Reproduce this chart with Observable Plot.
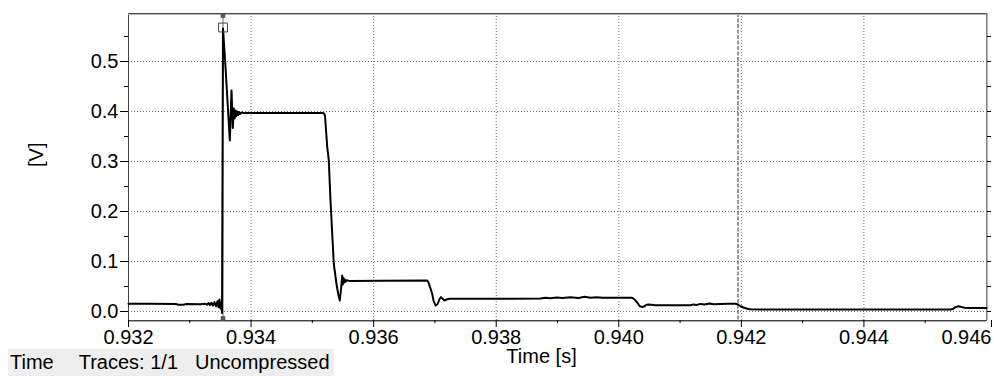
<!DOCTYPE html>
<html><head><meta charset="utf-8">
<script src="https://cdn.jsdelivr.net/npm/d3@7"></script>
<script src="https://cdn.jsdelivr.net/npm/@observablehq/plot@0.6"></script>
<style>
html,body{margin:0;padding:0;background:#fff;}
#wrap{position:relative;width:994px;height:376px;overflow:hidden;}
#cap{position:absolute;left:8px;top:349px;height:27px;width:324px;background:#eeeeee;font:20px "Liberation Sans",Arial,sans-serif;line-height:27px;white-space:pre;color:#000;padding-left:2px;}
#cap span{display:inline-block;}
</style></head><body><div id="wrap"><div id="cap"></div></div>
<script>
// ---- data ----
const timeS = [
  0.932000,0.932359,0.932767,0.932816,0.932897,0.932946,0.933175,
  0.933256,0.933281,0.933305,0.933330,0.933354,0.933379,0.933403,0.933428,0.933452,0.933469,0.933485,0.933501,0.933514,0.933526,
  0.933542,0.933583,0.933653,0.933681,0.933702,0.933718,0.933733,0.933746,0.933759,0.933774,0.933788,0.933803,0.933819,0.933844,0.933876,
  0.934480,0.935182,0.935206,0.935242,0.935268,0.935296,0.935324,0.935350,0.935394,0.935422,0.935448,0.935471,0.935487,0.935497,0.935508,0.935520,0.935531,0.935544,0.935565,0.935598,
  0.936112,0.936874,0.936895,0.936928,0.936956,0.936977,0.937010,0.937042,0.937075,0.937099,0.937124,0.937156,0.937189,0.937238,0.937303,
  0.938070,0.938723,0.938804,0.938886,0.938984,0.939082,0.939212,0.939343,0.939441,0.939539,0.939636,0.939734,
  0.940219,0.940257,0.940301,0.940338,0.940382,0.940420,0.940452,0.940490,0.940599,0.941170,0.941219,0.941268,0.941333,0.941398,0.941480,0.941545,0.941660,0.941790,0.941904,
  0.941945,0.941986,0.942035,0.942084,0.942133,0.942312,0.943781,0.945413,0.945453,0.945494,0.945543,0.945592,0.945641,0.945739,0.946000
];
const voltV = [
  0.0155,0.0156,0.0150,0.0136,0.0136,0.0148,0.0145,
  0.0155,0.0135,0.0168,0.0128,0.0175,0.0118,0.0188,0.0105,0.0205,0.0085,0.0240,0.0060,0.0180,-0.0030,
  0.566,0.489,0.342,0.442,0.367,0.406,0.386,0.402,0.391,0.400,0.393,0.399,0.395,0.398,0.397,
  0.3972,0.397,0.392,0.330,0.302,0.222,0.156,0.095,0.055,0.035,0.022,0.049,0.072,0.054,0.067,0.058,0.064,0.060,0.0625,0.0612,
  0.0615,0.062,0.058,0.046,0.035,0.022,0.012,0.0145,0.025,0.0287,0.026,0.022,0.024,0.0255,0.0253,
  0.0256,0.026,0.0275,0.0265,0.028,0.027,0.0285,0.0272,0.0295,0.0275,0.0285,0.0275,
  0.0275,0.024,0.018,0.011,0.0087,0.0105,0.0135,0.0138,0.0125,0.0125,0.0142,0.013,0.0152,0.0138,0.0158,0.0145,0.015,0.0155,0.0155,
  0.014,0.0105,0.008,0.006,0.0045,0.004,0.004,0.004,0.005,0.0088,0.0105,0.009,0.0075,0.007,0.007
];
const xDomain = [0.932, 0.946];
const yDomain = [-0.018, 0.596];
const xMajor = [0.932,0.934,0.936,0.938,0.940,0.942,0.944,0.946];
const xMinor = [0.933,0.935,0.937,0.939,0.941,0.943,0.945];
const yMajor = [0.0,0.1,0.2,0.3,0.4,0.5];
const yMinor = [0.05,0.15,0.25,0.35,0.45,0.55];
const peakCursorT = [0.933542];
const peakCursorV = [0.566];
const cursorEnds = [0.592, -0.014];
const secondCursorT = [0.941945];
const xLabel = "Time [s]";
const yLabel = "[V]";
const captionParts = ["Time", "Traces: 1/1", "Uncompressed"];

// ---- chart ----
const trace = timeS.map((t, i) => ({t, v: voltV[i]}));
const font = '"Liberation Sans", Arial, sans-serif';
const fmtX = d3.format(".3f");

const chart = Plot.plot({
  width: 994,
  height: 376,
  marginLeft: 128,
  marginRight: 8,
  marginTop: 13,
  marginBottom: 56,
  style: {fontFamily: font, fontSize: "20px", background: "#fff", color: "#000"},
  x: {domain: xDomain},
  y: {domain: yDomain},
  marks: [
    Plot.gridX({ticks: xMajor, stroke: "#777", strokeOpacity: 1, strokeDasharray: "1,2"}),
    Plot.gridY({ticks: yMajor, stroke: "#777", strokeOpacity: 1, strokeDasharray: "1,2"}),
    Plot.ruleX(secondCursorT, {stroke: "#555", strokeWidth: 1.2, strokeDasharray: "4,1.5"}),
    Plot.ruleX(peakCursorT, {stroke: "#999", strokeWidth: 1.5}),
    Plot.frame({stroke: "#444", strokeWidth: 1}),
    Plot.ruleY([yDomain[0]], {stroke: "#aaa", strokeWidth: 1, dy: 1}),
    Plot.ruleY([yDomain[1]], {stroke: "#bbb", strokeWidth: 1, dy: 1}),
    Plot.ruleX([xDomain[1]], {stroke: "#999", strokeWidth: 1.5, dx: 0.5}),
    Plot.axisX({ticks: xMajor.slice(0, -1), tickSize: 7, tickPadding: 2, tickFormat: fmtX, fontSize: 20, label: null}),
    Plot.axisX({ticks: xMajor.slice(-1), tickSize: 7, tickPadding: 2, tickFormat: fmtX, fontSize: 20, label: null, textAnchor: "end", dx: 5}),
    Plot.axisX({ticks: xMinor, tickSize: 3, tickFormat: () => "", label: null}),
    Plot.axisY({ticks: yMajor, tickSize: 8, tickPadding: 2, tickFormat: d3.format(".1f"), fontSize: 20, label: null}),
    Plot.axisY({ticks: yMinor, tickSize: 4, tickFormat: () => "", label: null}),
    Plot.axisY({anchor: "right", ticks: yMajor.concat(yMinor), tickSize: 4, tickFormat: () => "", label: null}),
    Plot.line(trace, {x: "t", y: "v", stroke: "#000", strokeWidth: 2, curve: "linear"}),
    Plot.dot(cursorEnds.map(v => ({t: peakCursorT[0], v})), {x: "t", y: "v", symbol: "square", r: 2.6, fill: "#555", stroke: "none"}),
    Plot.dot(peakCursorV.map(v => ({t: peakCursorT[0], v})), {x: "t", y: "v", symbol: "square", r: 5, fill: "none", stroke: "#444", strokeWidth: 1, dy: -1}),
    Plot.text([xLabel], {frameAnchor: "bottom", text: d => d, dy: 42, dx: -16, fontSize: 20}),
    Plot.text([yLabel], {frameAnchor: "left", text: d => d, dx: -92, rotate: -90, fontSize: 20})
  ]
});
document.getElementById("wrap").prepend(chart);
const cap = document.getElementById("cap");
captionParts.forEach((p, i) => {
  const s = document.createElement("span");
  s.textContent = p;
  s.style.marginLeft = i === 0 ? "0px" : (i === 1 ? "25px" : "17px");
  cap.appendChild(s);
});
</script>
</body></html>
